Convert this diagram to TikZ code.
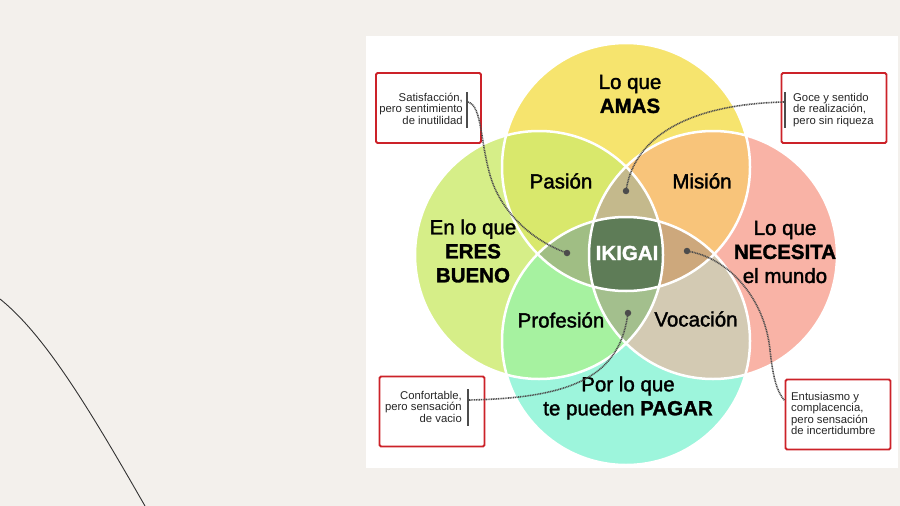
\documentclass[tikz,border=0pt]{standalone}
\usepackage{fontspec}
\setmainfont{Liberation Sans}
\newfontfamily\medfont[FakeBold=1.6,BoldFeatures={FakeBold=1.4}]{Liberation Sans}
\usetikzlibrary{calc}

\definecolor{bgpaper}{HTML}{F3F0EC}
\definecolor{boxred}{HTML}{CC2229}
\definecolor{cYel}{HTML}{F6E46E}
\definecolor{cLim}{HTML}{D6EE88}
\definecolor{cSal}{HTML}{F9B3A6}
\definecolor{cAqu}{HTML}{9DF5DC}
\definecolor{cPas}{HTML}{D9E86C}
\definecolor{cMis}{HTML}{F8C47A}
\definecolor{cPro}{HTML}{A6F2A0}
\definecolor{cVoc}{HTML}{D3CAB3}
\definecolor{cTop}{HTML}{C4B98C}
\definecolor{cLft}{HTML}{A0BE84}
\definecolor{cRgt}{HTML}{CDA87C}
\definecolor{cBot}{HTML}{A3BF8D}
\definecolor{cCen}{HTML}{5E7C57}

\begin{document}
\begin{tikzpicture}[x=1pt,y=-1pt,
	zonelabel/.style={font=\medfont\fontsize{20.5}{24}\selectfont,align=center,inner sep=0pt},
	notetext/.style={font=\fontsize{11.3}{11.5}\selectfont,text=black!85,inner sep=0pt},
	notebox/.style={draw=boxred,line width=1.8pt,rounded corners=1.5pt,fill=white,minimum width=105pt,minimum height=70pt},
	notelink/.style={dash pattern=on 1pt off 0.7pt,line width=1.6pt,draw=black!70},
	notebar/.style={line width=2.4pt,draw=black!70},
	linkdot/.style={circle,fill=black!70,inner sep=0pt,minimum size=6.5pt}]
	\fill[bgpaper] (0,0) rectangle (900,506);
	\useasboundingbox (0,0) rectangle (900,506);
	\draw[black!80,line width=0.9pt] (0,299) .. controls (45,335) and (90,410) .. (145,506);
	\fill[white] (366,36) rectangle (898,468);
	% the four circles
	\def\rr{124pt}
	\coordinate (cY) at (626,167);
	\coordinate (cL) at (539,255);
	\coordinate (cR) at (713,255);
	\coordinate (cB) at (626,341);
	\foreach \c/\col in {cY/cYel,cL/cLim,cR/cSal,cB/cAqu}
		\fill[\col] (\c) circle[radius=\rr];
	\begin{scope}
		\clip (cY) circle[radius=\rr];
		\fill[cPas] (cL) circle[radius=\rr];
		\fill[cMis] (cR) circle[radius=\rr];
	\end{scope}
	\begin{scope}
		\clip (cB) circle[radius=\rr];
		\fill[cPro] (cL) circle[radius=\rr];
		\fill[cVoc] (cR) circle[radius=\rr];
	\end{scope}
	\begin{scope}
		\clip (cL) circle[radius=\rr];
		\clip (cR) circle[radius=\rr];
		\fill[cTop] (cY) circle[radius=\rr];
		\fill[cBot] (cB) circle[radius=\rr];
	\end{scope}
	\begin{scope}
		\clip (cY) circle[radius=\rr];
		\clip (cB) circle[radius=\rr];
		\fill[cLft] (cL) circle[radius=\rr];
		\fill[cRgt] (cR) circle[radius=\rr];
		\clip (cL) circle[radius=\rr];
		\fill[cCen] (cR) circle[radius=\rr];
	\end{scope}
	\foreach \c in {cY,cL,cR,cB}
		\draw[white,line width=2.5pt] (\c) circle[radius=\rr];
	% labels
	\node[zonelabel] (amas) at (630,94) {Lo que\\\textbf{AMAS}};
	\node[zonelabel] (bueno) at (473,251) {En lo que\\\textbf{ERES}\\\textbf{BUENO}};
	\node[zonelabel] (necesita) at (785,252) {Lo que\\\textbf{NECESITA}\\el mundo};
	\node[zonelabel] (pagar) at (628,398) {Por lo que\\te pueden \textbf{PAGAR}};
	\node[zonelabel] (pasion) at (561,181) {Pasión};
	\node[zonelabel] (mision) at (702,181) {Misión};
	\node[zonelabel] (profesion) at (561,320) {Profesión};
	\node[zonelabel] (vocacion) at (696,319) {Vocación};
	\node[zonelabel,text=white] (ikigai) at (627,253) {\textbf{IKIGAI}};
	% note boxes
	\node[notebox] (b1) at (428.5,108) {};
	\node[notebox] (b2) at (834,108) {};
	\node[notebox] (b3) at (432,411.5) {};
	\node[notebox] (b4) at (838,414.5) {};
	\node[notetext,anchor=east,align=right] (t1) at (463,108.5) {Satisfacción,\\pero sentimiento\\de inutilidad};
	\node[notetext,anchor=west,align=left] (t2) at (793,110) {Goce y sentido\\de realización,\\pero sin riqueza};
	\node[notetext,anchor=east,align=right] (t3) at (462,406.5) {Confortable,\\pero sensación\\de vacio};
	\node[notetext,anchor=west,align=left] (t4) at (791,413.5) {Entusiasmo y\\complacencia,\\pero sensación\\de incertidumbre};
	\draw[notebar] (467,92) -- (467,128);
	\draw[notebar] (785,92) -- (785,128);
	\draw[notebar] (468,389) -- (468,426);
	\coordinate (s1) at (468,102);
	\coordinate (s2) at (784,102);
	\coordinate (s3) at (469,400);
	\coordinate (e4) at ([yshift=14pt]b4.west);
	% links
	\node[linkdot] (d1) at (567,253) {};
	\node[linkdot] (d2) at (626,191) {};
	\node[linkdot] (d3) at (628,313) {};
	\node[linkdot] (d4) at (687,251) {};
	\draw[notelink] (s1) .. controls (482,106) and (480,140) .. (490,175) .. controls (500,210) and (530,240) .. (d1.center);
	\draw[notelink] (s2) .. controls (700,104) and (635,130) .. (d2.center);
	\draw[notelink] (s3) .. controls (575,398) and (620,375) .. (d3.center);
	\draw[notelink] (d4.center) .. controls (730,258) and (765,300) .. (770,350) .. controls (773,378) and (777,392) .. (e4);
\end{tikzpicture}
\end{document}
